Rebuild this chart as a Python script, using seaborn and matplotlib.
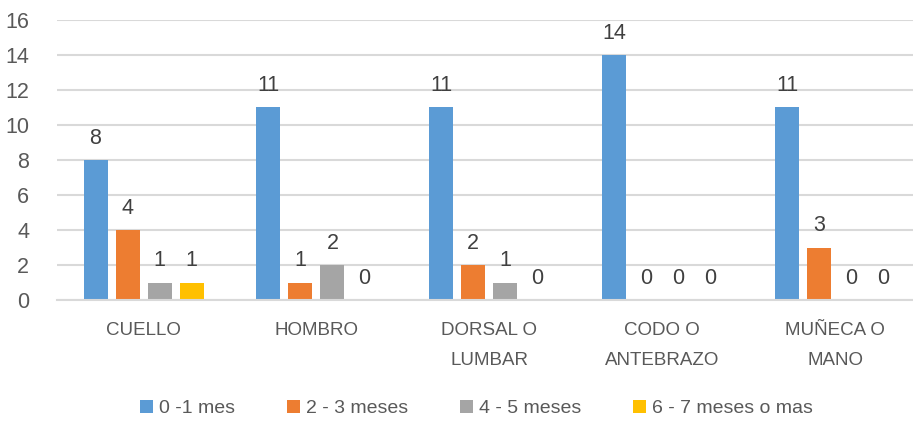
import matplotlib
matplotlib.use("Agg")
import matplotlib.pyplot as plt
import seaborn as sns
import pandas as pd

categories = ["CUELLO", "HOMBRO", "DORSAL O\nLUMBAR", "CODO O\nANTEBRAZO", "MUÑECA O\nMANO"]
series = ["0 -1 mes", "2 - 3 meses", "4 - 5 meses", "6 - 7 meses o mas"]
v_0_1 = [8, 11, 11, 14, 11]
v_2_3 = [4, 1, 2, 0, 3]
v_4_5 = [1, 2, 1, 0, 0]
v_6_7 = [1, 0, 0, 0, 0]
colors = ["#5B9BD5", "#ED7D31", "#A5A5A5", "#FFC000"]
y_ticks = [0, 2, 4, 6, 8, 10, 12, 14, 16]

rows = []
for s, vals in zip(series, [v_0_1, v_2_3, v_4_5, v_6_7]):
    for c, v in zip(categories, vals):
        rows.append({"zona": c, "tiempo": s, "n": v})
df = pd.DataFrame(rows)

sns.set_theme(style="white")
plt.rcParams["font.family"] = ["Liberation Sans", "DejaVu Sans"]
text_color = "#595959"

fig = plt.figure(figsize=(9.13, 4.25), dpi=100)
ax = fig.add_axes([0.0625, 0.294, 0.9375, 0.659])

sns.barplot(data=df, x="zona", y="n", hue="tiempo", order=categories,
            hue_order=series, palette=colors, width=0.74, gap=0.25,
            saturation=1, linewidth=0, ax=ax, legend=True, errorbar=None)

for cont in ax.containers:
    labels = [f"{int(b.get_height())}" for b in cont]
    ax.bar_label(cont, labels=labels, padding=8, fontsize=15.5, color="#404040")

ax.set_ylim(0, 16)
ax.set_yticks(y_ticks)
ax.set_xlim(-0.5, 4.45)
ax.yaxis.grid(True, color="#D9D9D9", linewidth=1.5)
ax.set_axisbelow(True)
for side in ["top", "right", "left"]:
    ax.spines[side].set_visible(False)
ax.spines["bottom"].set_color("#D9D9D9")
ax.spines["bottom"].set_linewidth(1.5)
ax.set_xlabel("")
ax.set_ylabel("")
ax.tick_params(axis="y", length=0, labelsize=15.5, labelcolor=text_color, pad=20)
ax.tick_params(axis="x", length=0, labelsize=13.5, labelcolor=text_color, pad=16)
for t in ax.get_xticklabels():
    t.set_linespacing(1.95)

handles, labs = ax.get_legend_handles_labels()
ax.legend(handles, labs, loc="lower center", bbox_to_anchor=(0.49, -0.48),
          ncol=4, frameon=False, fontsize=14, handlelength=0.65,
          handleheight=0.65, handletextpad=0.3, columnspacing=2.7,
          labelcolor=text_color)

fig.savefig("out.png", dpi=100)
